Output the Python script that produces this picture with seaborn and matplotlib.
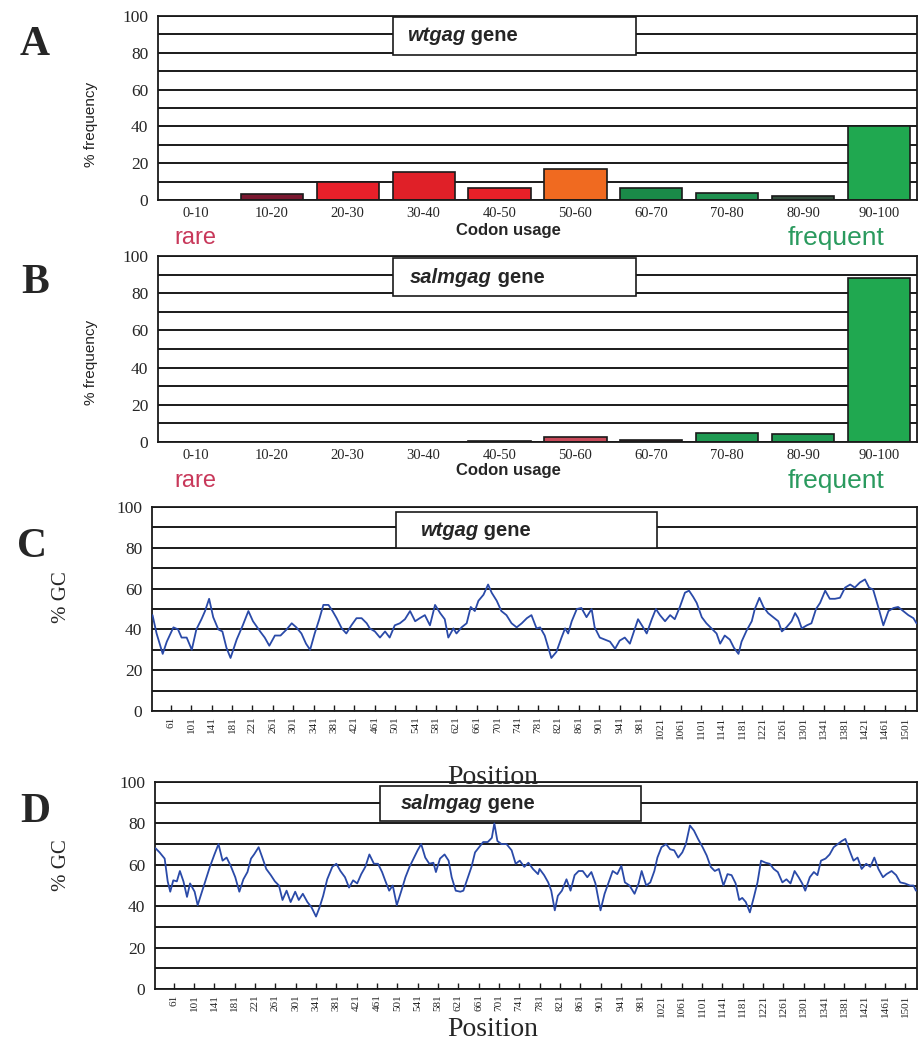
import numpy as np
import pandas as pd
import seaborn as sns
import matplotlib
matplotlib.use("Agg")
import matplotlib.pyplot as plt
from matplotlib.patches import Rectangle

# ---------------- data ----------------
categories = ["0-10", "10-20", "20-30", "30-40", "40-50",
              "50-60", "60-70", "70-80", "80-90", "90-100"]
wt_freq = [0, 3, 10, 15, 6.5, 17, 6.5, 4, 2, 40]
salm_freq = [0, 0, 0, 0, 0.4, 2.7, 1.2, 5, 4.5, 88]
wt_colors = ["#7a1830", "#7a1830", "#e8202a", "#e02028", "#e82028",
             "#f06a20", "#1a8a48", "#1f9150", "#34503e", "#20a850"]
salm_colors = ["#7a1830", "#7a1830", "#e02028", "#e02028", "#3a3a3a",
               "#c84a5a", "#5a2a30", "#1f9a52", "#1f9a52", "#20a850"]

c_pos = [25, 33, 45, 53, 66, 75, 82, 92, 102, 111, 121, 128, 136, 144, 154, 162, 170, 178,
         190, 202, 213, 222, 236, 245, 254, 265, 276, 288, 298, 307, 317, 326, 334, 343,
         352, 360, 370, 378, 386, 396, 405, 415, 425, 435, 445, 451, 461, 471, 481, 490,
         500, 510, 520, 530, 540, 549, 559, 569, 579, 589, 598, 605, 615, 621, 631, 641,
         649, 657, 664, 674, 683, 690, 700, 709, 719, 729, 739, 749, 759, 768, 778,
         785, 794, 801, 807, 817, 827, 834, 840, 847, 857, 866, 876, 886, 892, 902, 912,
         922, 932, 941, 951, 961, 971, 977, 987, 994, 1004, 1012, 1020, 1030, 1040, 1049,
         1059, 1069, 1077, 1085, 1092, 1102, 1111, 1121, 1131, 1138, 1147, 1157, 1165,
         1174, 1180, 1190, 1200, 1206, 1215, 1223, 1232, 1242, 1252, 1259, 1268, 1278,
         1285, 1291, 1298, 1308, 1317, 1326, 1334, 1344, 1353, 1363, 1373, 1383, 1393,
         1402, 1412, 1422, 1430, 1438, 1448, 1458, 1468, 1478, 1487, 1497, 1507, 1517, 1523]
c_gc = [47, 38, 28, 34, 41, 40, 36, 36, 30, 40, 45, 49, 55, 46, 40, 39, 31, 26,
        35, 42, 49, 44, 39, 36, 32, 37, 37, 40, 43, 41, 38, 33, 30, 38,
        45, 52, 52, 49, 45.5, 40.5, 38, 42, 45.5, 45.5, 43, 40.5, 39, 36, 39, 36,
        42, 43, 45, 49, 44, 45.5, 47, 42, 52, 48, 45, 36, 40.5, 38, 41, 43,
        51, 49, 54, 57, 62, 58, 54, 49, 47, 43, 41, 43, 45.5, 47, 40.5,
        41, 37, 31, 26, 29, 36, 40.5, 38, 44, 50, 50.5, 46, 50, 41, 36, 35,
        34, 30.5, 34.5, 36, 33, 40.5, 45, 41, 38, 45, 50, 47, 44, 47, 45,
        51, 58, 59, 56, 53, 46, 43, 40.5, 38, 33, 37, 35, 31,
        28, 34, 39.5, 44, 50, 55.5, 51, 48, 46, 44, 39, 41, 44,
        48, 45.5, 40.5, 42, 43, 50, 53, 59, 55, 55, 55.5, 60.5, 62,
        60.5, 63, 64.5, 60.5, 59.5, 51, 42, 49, 50.5, 51, 49, 47, 45.5, 43]

d_pos = [25, 33, 43, 49, 54, 60, 67, 73, 80, 87, 93, 102, 108, 117, 124, 132, 141, 149,
         157, 165, 173, 182, 190, 198, 206, 213, 219, 228, 236, 243, 252, 260, 268, 275,
         283, 291, 300, 307, 315, 324, 332, 341, 348, 355, 363, 373, 381, 389, 398, 406,
         414, 422, 430, 438, 446, 455, 463, 471, 477, 485, 492, 500, 509, 517, 525, 533,
         541, 548, 556, 564, 572, 577, 585, 594, 602, 608, 616, 625, 631, 640, 647, 654,
         662, 670, 679, 687, 692, 698, 706, 716, 726, 734, 742, 751, 759, 768, 778,
         781, 790, 798, 804, 811, 817, 825, 834, 842, 850, 858, 866, 875, 883, 891, 896,
         901, 909, 917, 925, 934, 942, 949, 958, 968, 976, 982, 991, 999, 1007, 1013,
         1021, 1030, 1038, 1046, 1054, 1062, 1069, 1077, 1085, 1093, 1102, 1110, 1118,
         1126, 1134, 1143, 1151, 1159, 1167, 1174, 1180, 1187, 1195, 1203, 1210, 1217,
         1226, 1234, 1242, 1250, 1259, 1267, 1275, 1283, 1291, 1298, 1304, 1313, 1321,
         1328, 1335, 1344, 1352, 1360, 1368, 1376, 1383, 1391, 1399, 1407, 1415, 1424,
         1432, 1440, 1448, 1457, 1464, 1474, 1483, 1491, 1500, 1510, 1517, 1522]
d_gc = [68, 66, 63, 52, 47, 52.5, 52, 57, 52, 44.5, 51, 47, 40.5, 47.5, 53, 59, 65, 70,
        62, 63.5, 59.5, 54, 47, 53, 56.5, 63, 65, 68.5, 63, 58, 55, 52, 50, 43,
        47.5, 42, 47, 43, 46, 42, 39.5, 35, 39.5, 45, 53, 59, 60.5, 57, 54, 49,
        52.5, 51, 55.5, 59, 65, 60.5, 60.5, 56.5, 52.5, 47.5, 50, 40.5, 47.5, 54, 59, 63,
        67, 70, 63.5, 60.5, 61, 56.5, 63, 65, 62, 54, 47.5, 47, 47.5, 54, 59, 66,
        68.5, 71, 71, 73, 80, 71.5, 70, 70, 67, 60.5, 62, 59, 61, 58, 55.5,
        58, 55, 51.5, 47.5, 38, 45, 47.5, 53, 47.5, 55, 57, 57, 54, 56.5, 51, 44.5,
        38, 46, 51.5, 57, 55.5, 59.5, 51.5, 50, 46, 51, 57, 50, 51.5, 57, 63.5,
        68.5, 70, 67.5, 67, 63.5, 66, 70, 79, 76.5, 72.5, 68.5, 64.5, 59,
        57, 58, 50, 55.5, 55, 51, 43, 44, 42, 37, 44.5, 51.5, 62,
        61, 60.5, 58, 56.5, 51.5, 53, 51, 57, 54, 51, 47.5, 54, 56.5,
        55, 62, 63, 65, 68.5, 70, 71.5, 72.5, 67, 62, 63.5, 58, 60.5,
        59, 63.5, 58, 54, 55.5, 57, 55, 51.5, 51, 50, 50, 47.5]

pos_ticks = list(range(61, 1502, 40))
y_ticks = [0, 20, 40, 60, 80, 100]
grid_ticks = list(range(0, 101, 10))

# ---------------- style ----------------
sns.set_theme(style="white")
plt.rcParams["font.family"] = ["Liberation Serif", "DejaVu Serif"]
SANS = ["Liberation Sans", "DejaVu Sans"]
SERIF = ["Liberation Serif", "DejaVu Serif"]

W, H = 918, 1047
fig = plt.figure(figsize=(W / 100, H / 100), dpi=100)
fig.patch.set_facecolor("white")


def px_axes(left, top, right, bottom):
    return fig.add_axes([left / W, 1 - bottom / H, (right - left) / W, (bottom - top) / H])


def style_frame(ax):
    ax.set_ylim(0, 100)
    ax.set_yticks(y_ticks)
    ax.set_yticklabels([str(v) for v in y_ticks], fontsize=12.5, family=SERIF)
    ax.set_yticks(grid_ticks, minor=True)
    ax.yaxis.grid(True, which="both", color="#1a1a1a", lw=1.4)
    ax.xaxis.grid(False)
    ax.set_axisbelow(True)
    ax.tick_params(axis="y", which="both", length=0, pad=7)
    for s in ax.spines.values():
        s.set_color("#1a1a1a")
        s.set_linewidth(1.3)
    ax.set_facecolor("white")


def title_box(ax, x0, y0, x1, y1, tx, italic_part, rest):
    ax.add_patch(Rectangle((x0, y0), x1 - x0, y1 - y0, transform=ax.transAxes,
                           facecolor="white", edgecolor="#1a1a1a", lw=1.2,
                           zorder=5, clip_on=False))
    t1 = ax.text(tx, (y0 + y1) / 2, italic_part, transform=ax.transAxes,
                 ha="left", va="center", fontsize=14.5, fontweight="bold",
                 fontstyle="italic", family=SANS, zorder=6)
    ax.annotate(rest, xy=(1, 0.5), xycoords=t1, ha="left", va="center",
                fontsize=14.5, fontweight="bold", family=SANS, zorder=6)


def bar_panel(ax, values, colors):
    df = pd.DataFrame({"cat": categories, "val": values})
    sns.barplot(data=df, x="cat", y="val", hue="cat", palette=colors,
                legend=False, width=0.82, saturation=1, edgecolor="#1a1a1a",
                linewidth=1.2, ax=ax)
    style_frame(ax)
    ax.set_xlim(-0.5, 9.5)
    ax.set_xlabel("")
    ax.set_ylabel("")
    ax.tick_params(axis="x", length=0, pad=5, labelsize=10.5)
    for lab in ax.get_xticklabels():
        lab.set_family(SERIF)


# ---------------- Panel A ----------------
axA = px_axes(158, 16, 917, 200)
bar_panel(axA, wt_freq, wt_colors)
title_box(axA, 0.310, 0.788, 0.630, 0.995, 0.328, "wtgag", " gene")

# ---------------- Panel B ----------------
axB = px_axes(158, 256, 917, 442)
bar_panel(axB, salm_freq, salm_colors)
title_box(axB, 0.310, 0.785, 0.630, 0.989, 0.332, "salmgag", " gene")


def line_panel(ax, pos, gc):
    sns.lineplot(x=pos, y=gc, ax=ax, color="#2a4aa8", lw=1.3, zorder=3)
    style_frame(ax)
    ax.set_xlim(24, 1524)
    ax.set_xticks(pos_ticks)
    ax.set_xticklabels([str(p) for p in pos_ticks], rotation=90,
                       fontsize=8, family=SERIF)
    ax.tick_params(axis="x", direction="in", length=4, width=1, color="#1a1a1a",
                   pad=4, bottom=True)
    ax.set_xlabel("")
    ax.set_ylabel("")


# ---------------- Panel C ----------------
axC = px_axes(152, 507, 917, 711)
line_panel(axC, c_pos, c_gc)
title_box(axC, 0.319, 0.799, 0.660, 0.975, 0.350, "wtgag", " gene")

# ---------------- Panel D ----------------
axD = px_axes(155, 782, 917, 989)
line_panel(axD, d_pos, d_gc)
title_box(axD, 0.295, 0.812, 0.638, 0.981, 0.322, "salmgag", " gene")

# ---------------- annotations ----------------
def ftext(x, y, s, **kw):
    fig.text(x / W, 1 - y / H, s, **kw)


for (x, y, s) in [(35, 45, "A"), (35, 283, "B"), (32, 547, "C"), (35, 812, "D")]:
    ftext(x, y, s, fontsize=30, fontweight="bold", family=SERIF,
          ha="center", va="center")

for y in (124, 362):
    ftext(91, y, "% frequency", fontsize=11, family=SANS, rotation=90,
          ha="center", va="center", color="#222222")

for y in (231, 470):
    ftext(508, y, "Codon usage", fontsize=12, fontweight="bold", family=SANS,
          ha="center", va="center")

for y in (238, 481):
    ftext(195, y, "rare", fontsize=17, family=SANS, color="#c8385a",
          ha="center", va="center")
    ftext(836, y, "frequent", fontsize=19, family=SANS, color="#2a9a5e",
          ha="center", va="center")

for y in (597, 865):
    ftext(62, y, "% GC", fontsize=15, family=SERIF, rotation=90,
          ha="center", va="center")

for y in (777, 1030):
    ftext(493, y, "Position", fontsize=20, family=SERIF,
          ha="center", va="center")

fig.savefig("out.png", dpi=100, facecolor="white")
